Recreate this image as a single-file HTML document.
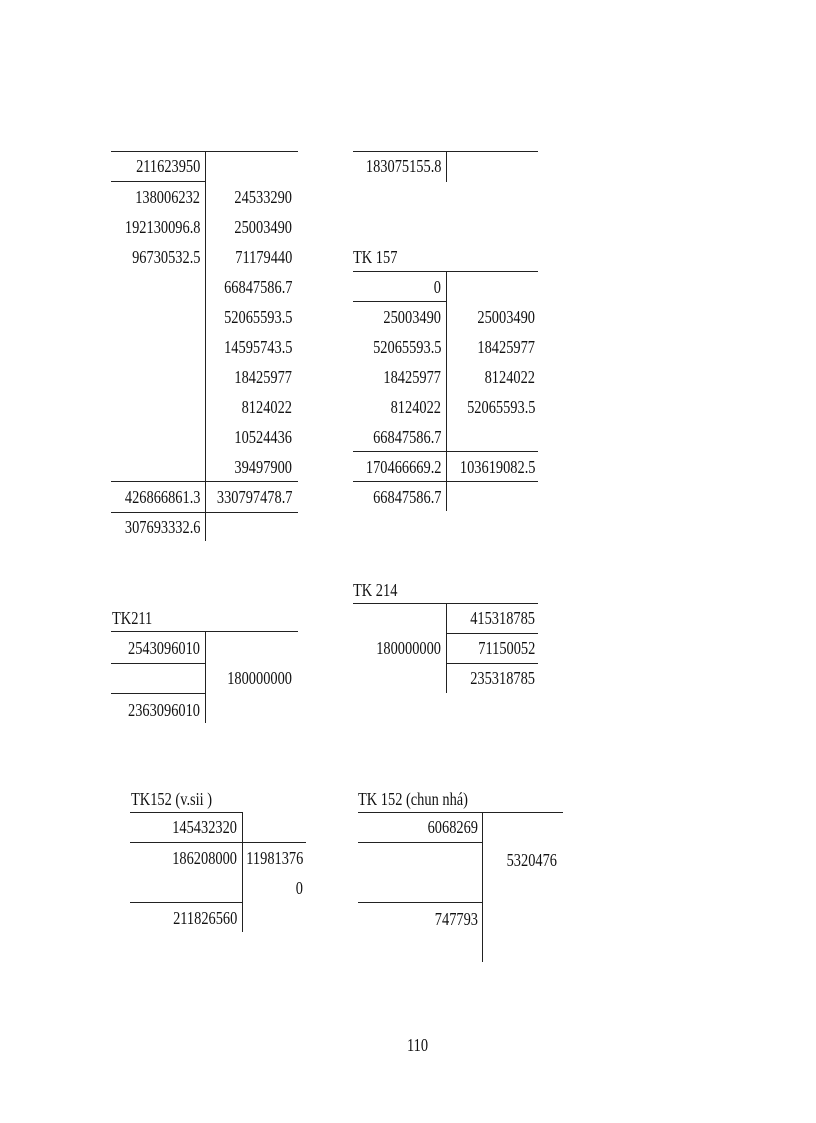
<!DOCTYPE html>
<html><head><meta charset="utf-8"><style>
body{margin:0;width:816px;height:1123px;background:#fff;position:relative;overflow:hidden;font-family:"Liberation Serif",serif;font-size:18px;color:#111}
.t{position:absolute;line-height:20px;white-space:nowrap;transform:scaleX(0.8);transform-origin:left center}
.r{text-align:right;transform-origin:right center}
.h{position:absolute;height:0;border-top:1.5px solid #222}
.v{position:absolute;width:0;border-left:1px solid #222}
</style></head><body>
<!-- Table 1 -->
<div class="h" style="left:111px;top:151px;width:187px"></div>
<div class="v" style="left:205px;top:151px;height:390px"></div>
<div class="h" style="left:111px;top:181px;width:94px"></div>
<div class="h" style="left:111px;top:481px;width:187px"></div>
<div class="h" style="left:111px;top:512px;width:187px"></div>
<div class="t r" style="right:616px;top:156px">211623950</div>
<div class="t r" style="right:616px;top:187px">138006232</div>
<div class="t r" style="right:616px;top:217px">192130096.8</div>
<div class="t r" style="right:616px;top:247px">96730532.5</div>
<div class="t r" style="right:524px;top:187px">24533290</div>
<div class="t r" style="right:524px;top:217px">25003490</div>
<div class="t r" style="right:524px;top:247px">71179440</div>
<div class="t r" style="right:524px;top:277px">66847586.7</div>
<div class="t r" style="right:524px;top:307px">52065593.5</div>
<div class="t r" style="right:524px;top:337px">14595743.5</div>
<div class="t r" style="right:524px;top:367px">18425977</div>
<div class="t r" style="right:524px;top:397px">8124022</div>
<div class="t r" style="right:524px;top:427px">10524436</div>
<div class="t r" style="right:524px;top:457px">39497900</div>
<div class="t r" style="right:616px;top:487px">426866861.3</div>
<div class="t r" style="right:524px;top:487px">330797478.7</div>
<div class="t r" style="right:616px;top:517px">307693332.6</div>
<!-- Table 2 -->
<div class="h" style="left:353px;top:151px;width:185px"></div>
<div class="v" style="left:446px;top:151px;height:31px"></div>
<div class="t r" style="right:375px;top:156px">183075155.8</div>
<!-- TK157 -->
<div class="t" style="left:353px;top:247px">TK 157</div>
<div class="h" style="left:353px;top:271px;width:185px"></div>
<div class="v" style="left:446px;top:271px;height:240px"></div>
<div class="h" style="left:353px;top:301px;width:93px"></div>
<div class="h" style="left:353px;top:451px;width:185px"></div>
<div class="h" style="left:353px;top:481px;width:185px"></div>
<div class="t r" style="right:375px;top:277px">0</div>
<div class="t r" style="right:375px;top:307px">25003490</div>
<div class="t r" style="right:375px;top:337px">52065593.5</div>
<div class="t r" style="right:375px;top:367px">18425977</div>
<div class="t r" style="right:375px;top:397px">8124022</div>
<div class="t r" style="right:375px;top:427px">66847586.7</div>
<div class="t r" style="right:375px;top:457px">170466669.2</div>
<div class="t r" style="right:375px;top:487px">66847586.7</div>
<div class="t r" style="right:281px;top:307px">25003490</div>
<div class="t r" style="right:281px;top:337px">18425977</div>
<div class="t r" style="right:281px;top:367px">8124022</div>
<div class="t r" style="right:281px;top:397px">52065593.5</div>
<div class="t r" style="right:281px;top:457px">103619082.5</div>
<!-- TK214 -->
<div class="t" style="left:353px;top:580px">TK 214</div>
<div class="h" style="left:353px;top:603px;width:185px"></div>
<div class="v" style="left:446px;top:603px;height:90px"></div>
<div class="h" style="left:446px;top:633px;width:92px"></div>
<div class="h" style="left:446px;top:663px;width:92px"></div>
<div class="t r" style="right:281px;top:608px">415318785</div>
<div class="t r" style="right:375px;top:638px">180000000</div>
<div class="t r" style="right:281px;top:638px">71150052</div>
<div class="t r" style="right:281px;top:668px">235318785</div>
<!-- TK211 -->
<div class="t" style="left:112px;top:608px">TK211</div>
<div class="h" style="left:111px;top:631px;width:187px"></div>
<div class="v" style="left:205px;top:631px;height:92px"></div>
<div class="h" style="left:111px;top:663px;width:94px"></div>
<div class="h" style="left:111px;top:693px;width:94px"></div>
<div class="t r" style="right:616px;top:638px">2543096010</div>
<div class="t r" style="right:524px;top:668px">180000000</div>
<div class="t r" style="right:616px;top:700px">2363096010</div>
<!-- TK152 v.sii -->
<div class="t" style="left:131px;top:789px">TK152 (v.sii )</div>
<div class="h" style="left:130px;top:812px;width:112px"></div>
<div class="v" style="left:242px;top:812px;height:120px"></div>
<div class="h" style="left:130px;top:842px;width:176px"></div>
<div class="h" style="left:130px;top:902px;width:112px"></div>
<div class="t r" style="right:579px;top:817px">145432320</div>
<div class="t r" style="right:579px;top:848px">186208000</div>
<div class="t r" style="right:513px;top:848px">11981376</div>
<div class="t r" style="right:513px;top:878px">0</div>
<div class="t r" style="right:579px;top:908px">211826560</div>
<!-- TK152 chun nha -->
<div class="t" style="left:358px;top:789px">TK 152 (chun nhá)</div>
<div class="h" style="left:358px;top:812px;width:205px"></div>
<div class="v" style="left:482px;top:812px;height:150px"></div>
<div class="h" style="left:358px;top:842px;width:124px"></div>
<div class="h" style="left:358px;top:902px;width:124px"></div>
<div class="t r" style="right:338px;top:817px">6068269</div>
<div class="t r" style="right:259px;top:850px">5320476</div>
<div class="t r" style="right:338px;top:909px">747793</div>
<div class="t" style="left:407px;top:1035px">110</div>
</body></html>
